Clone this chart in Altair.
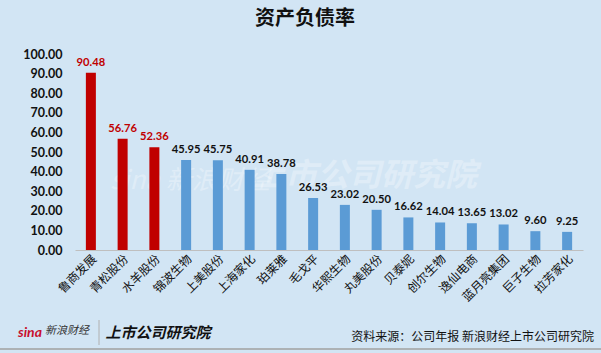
import altair as alt
import pandas as pd

companies = ["鲁商发展", "青松股份", "水羊股份", "锦波生物", "上美股份", "上海家化", "珀莱雅", "毛戈平",
             "华熙生物", "丸美股份", "贝泰妮", "创尔生物", "逸仙电商", "蓝月亮集团", "巨子生物", "拉芳家化"]
ratios = [90.48, 56.76, 52.36, 45.95, 45.75, 40.91, 38.78, 26.53,
          23.02, 20.50, 16.62, 14.04, 13.65, 13.02, 9.60, 9.25]
highlight = [True, True, True] + [False] * 13
y_ticks = [0, 10, 20, 30, 40, 50, 60, 70, 80, 90, 100]

df = pd.DataFrame({"公司": companies, "资产负债率": ratios, "高": highlight})

PL, PT, PR, PB = 75, 54, 18, 103
W, H = 601 - PL - PR, 353 - PT - PB
BG = "#D2E5F4"
FONT = "Noto Sans CJK SC"
NUM = "Lato"

x = alt.X("公司:N", sort=companies, title=None,
          scale=alt.Scale(paddingInner=0.685, paddingOuter=0.3425),
          axis=alt.Axis(labelAngle=-45, labelFontSize=12, labelColor="#111111", labelFont=FONT,
                        ticks=False, domainColor="#BFBFBF", labelPadding=3,
                        labelAlign="right", labelBaseline="top"))
y = alt.Y("资产负债率:Q", title=None,
          scale=alt.Scale(domain=[0, 100], nice=False),
          axis=alt.Axis(values=y_ticks, format=".2f", grid=False, domain=False, ticks=False,
                        labelFontSize=12.5, labelFontWeight="bold", labelColor="#111111",
                        labelFont=NUM, labelPadding=13))

base = alt.Chart(df)
bars = base.mark_bar().encode(
    x=x, y=y,
    color=alt.condition("datum['高']", alt.value("#C00000"), alt.value("#5B9BD5")))
labels = base.mark_text(dy=-10, fontSize=11.2, fontWeight="bold", font=NUM).encode(
    x=x, y=y, text=alt.Text("资产负债率:Q", format=".2f"),
    color=alt.condition("datum['高']", alt.value("#C00000"), alt.value("#111111")))

def txt(s, ax, ay, font=FONT, **kw):
    return alt.Chart(pd.DataFrame({"t": [s]})).mark_text(font=font, **kw).encode(
        x=alt.value(ax - PL), y=alt.value(ay - PT), text="t:N")

title = txt("资产负债率", 305, 19, fontSize=20, fontWeight="bold", color="#111111")
wm1 = txt("sina 新浪财经", 190, 181, fontSize=26, color="white", opacity=0.3, fontStyle="italic")
wm2 = txt("上市公司研究院", 365, 176, fontSize=32, fontWeight="bold", color="white", opacity=0.3, fontStyle="italic")
logo1 = txt("sina", 30, 333, fontSize=14, fontWeight="bold", fontStyle="italic", color="#C8102E", font=NUM)
logo2 = txt("新浪财经", 67, 331, fontSize=11, fontStyle="italic", color="#333333")
logo3 = txt("上市公司研究院", 158, 333, fontSize=15, fontWeight="bold", fontStyle="italic", color="#111111")
source = txt("资料来源：公司年报 新浪财经上市公司研究院", 594, 337, fontSize=12, align="right", color="#111111")

sep = alt.Chart(pd.DataFrame({"a": [0]})).mark_rule(color="#B0B0B0").encode(
    x=alt.value(99 - PL), y=alt.value(320 - PT), y2=alt.value(345 - PT))
bottom = alt.Chart(pd.DataFrame({"a": [0]})).mark_rule(color="#A0A0A0", strokeWidth=1.5).encode(
    x=alt.value(0 - PL), x2=alt.value(601 - PL), y=alt.value(349 - PT))

chart = alt.layer(wm1, wm2, bars, labels, title, logo1, logo2, logo3, source, sep, bottom).properties(
    width=W, height=H,
    autosize=alt.AutoSizeParams(type="none"),
    padding={"left": PL, "top": PT, "right": PR, "bottom": PB},
    background=BG,
).configure_view(stroke=None)

chart.save("out.html", embed_options={"renderer": "svg", "actions": False})
